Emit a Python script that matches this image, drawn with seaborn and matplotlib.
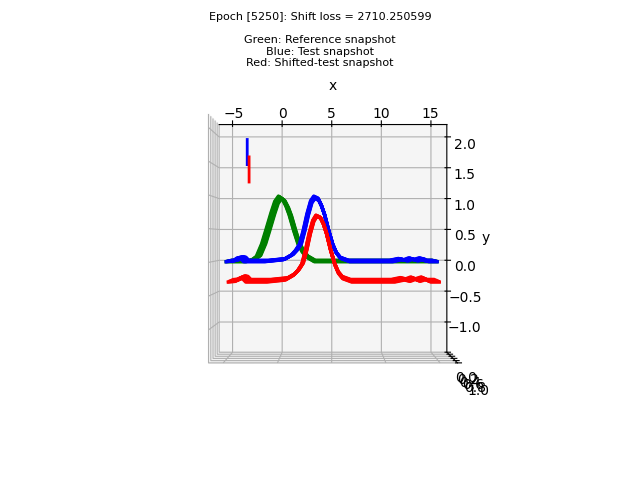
import numpy as np
import seaborn as sns
import matplotlib
matplotlib.use("Agg")
import matplotlib.pyplot as plt

sns.set_style("ticks")
plt.rcdefaults()

title = "Epoch [5250]: Shift loss = 2710.250599\n\nGreen: Reference snapshot\nBlue: Test snapshot\nRed: Shifted-test snapshot"
x_ref = [-5, -3.15, -2.65, -2.15, -1.65, -1.25, -0.75, -0.4, -0.05, 0.3, 0.65, 0.95, 1.4, 1.8, 2.2, 2.6, 3.35, 15]
y_ref = [0, 0.0, 0.02, 0.08, 0.27, 0.48, 0.75, 0.92, 1.0, 0.96, 0.85, 0.72, 0.47, 0.27, 0.15, 0.07, 0.0, 0.0]
x_test = [-5, -4.35, -4.05, -3.9, -3.65, -3.35, -1.35, -0.15, 0.4, 1.15, 1.55, 1.95, 2.3, 2.65, 3.0, 3.3, 3.7, 4.0, 4.3, 4.7, 5.1, 5.45, 5.85, 6.7, 10.8, 11.7, 12.25, 12.75, 13.2, 13.8, 14.2, 15]
y_test = [0, 0.01, 0.05, 0.06, 0.05, 0.0, 0.0, 0.02, 0.03, 0.1, 0.17, 0.27, 0.48, 0.73, 0.93, 1.0, 0.97, 0.87, 0.73, 0.48, 0.26, 0.13, 0.05, 0.0, 0.0, 0.03, 0.01, 0.04, 0.01, 0.04, 0.0, 0.0]
x_shift = [-4.8, -4.15, -3.85, -3.7, -3.45, -3.15, -1.15, 0.05, 0.6, 1.35, 1.75, 2.15, 2.5, 2.85, 3.2, 3.5, 3.9, 4.2, 4.5, 4.9, 5.3, 5.65, 6.05, 6.9, 11.0, 11.9, 12.45, 12.95, 13.4, 14.0, 14.4, 15.2]
y_shift = [-0.31, -0.3, -0.26, -0.25, -0.26, -0.31, -0.31, -0.29, -0.28, -0.21, -0.14, -0.04, 0.17, 0.43, 0.63, 0.71, 0.68, 0.58, 0.43, 0.17, -0.05, -0.18, -0.26, -0.31, -0.31, -0.28, -0.3, -0.27, -0.3, -0.27, -0.31, -0.31]
x_vblue = [-3.15, -3.15]
y_vblue = [1.5, 1.89]
x_vred = [-2.97, -2.97]
y_vred = [1.23, 1.62]
z_levels = [0.0, 0.1, 0.2, 0.3, 0.4, 0.5, 0.6, 0.7]

fig = plt.figure(figsize=(6.4, 4.8), dpi=100)
ax = fig.add_subplot(projection="3d", computed_zorder=False)
for xs, ys, c in [(x_ref, y_ref, "g"), (x_test, y_test, "b"), (x_shift, y_shift, "r")]:
    for z in z_levels:
        ax.plot(xs, ys, zs=z, color=c, lw=2.4)
ax.plot(x_vblue, y_vblue, zs=0.5, color="b", lw=2)
ax.plot(x_vred, y_vred, zs=0.5, color="r", lw=2)
ax.set_xlim(-6.35, 16.6)
ax.set_ylim(-1.49, 2.2)
ax.set_zlim(0, 1)
ax.set_xlabel("x")
ax.set_ylabel("y")
ax.set_title(title, fontsize=8, x=0.478, y=1.04)
ax.view_init(elev=90.01, azim=-90.01)
pos = ax.get_position()
ax.set_position([pos.x0, pos.y0 - 1 / 480, pos.width, pos.height])
fig.savefig("out.png", dpi=100)
